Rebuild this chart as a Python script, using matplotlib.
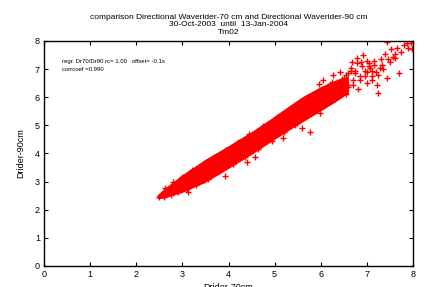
import matplotlib.pyplot as plt
import numpy as np

plt.rcParams['font.family'] = ['Liberation Sans', 'DejaVu Sans']

# dense core of the cloud: envelope
core_x = [2.45, 2.6, 3.0, 3.5, 4.0, 4.5, 4.9, 5.3, 5.6, 6.0, 6.3, 6.6]
core_lo = [2.4, 2.41, 2.62, 2.98, 3.47, 3.97, 4.4, 4.82, 5.12, 5.52, 5.82, 6.15]
core_hi = [2.52, 2.75, 3.25, 3.8, 4.28, 4.78, 5.22, 5.68, 6.02, 6.38, 6.6, 6.75]

# scattered points (rough edges, sparse upper part, outliers)
pts_x = [2.5, 2.6, 2.75, 2.9, 3.1, 3.3, 3.55, 3.8, 4.1, 4.35, 4.65, 4.95, 5.2, 5.45,
         2.62, 2.8, 3.0, 3.2, 3.45, 3.7, 3.95, 4.2, 4.45, 4.75, 5.05, 5.35,
         3.12, 3.47, 3.92, 4.4, 4.57, 5.18, 5.6, 5.77, 5.98, 5.73, 5.62,
         5.96, 6.05, 6.27, 6.42, 6.68, 6.79, 6.92, 6.3, 6.4, 6.5, 6.6, 6.7, 6.85, 7.0,
         6.35, 6.5, 6.6, 6.75, 6.9, 7.05, 7.15, 6.55, 6.8, 7.0, 7.1, 7.2,
         7.07, 7.28, 7.5, 7.57, 7.44, 7.22, 7.24, 7.7, 7.3, 7.4,
         7.44, 7.65, 7.9, 7.98, 7.87, 7.75, 7.6, 7.52, 7.8, 7.95,
         6.15, 6.25, 6.45, 6.55, 6.65, 6.75, 6.95, 7.05, 7.15, 6.2, 6.4, 6.6, 6.7, 6.85,
         6.95, 7.1, 7.25, 7.35, 6.88, 7.0, 6.65, 6.78, 7.12, 7.33, 7.45, 7.6]
pts_y = [2.47, 2.44, 2.52, 2.62, 2.72, 2.88, 3.1, 3.38, 3.62, 3.86, 4.15, 4.45, 4.75, 5.0,
         2.76, 2.98, 3.18, 3.4, 3.62, 3.86, 4.12, 4.4, 4.68, 4.98, 5.3, 5.6,
         2.63, 3.06, 3.2, 3.7, 3.88, 4.55, 4.91, 4.76, 5.44, 6.01, 5.83,
         6.47, 6.62, 6.8, 6.9, 7.25, 7.4, 7.5, 6.05, 6.2, 6.3, 6.45, 6.6, 6.75, 6.9,
         6.55, 6.7, 6.85, 6.95, 7.1, 7.2, 7.3, 6.1, 6.3, 6.5, 6.75, 6.9,
         7.04, 7.04, 7.25, 7.43, 6.69, 6.44, 6.15, 6.86, 7.35, 7.55,
         7.97, 7.76, 7.76, 7.7, 7.93, 7.6, 7.55, 7.7, 7.85, 7.92,
         6.4, 6.55, 6.65, 6.8, 6.95, 6.85, 6.95, 7.1, 7.15, 6.0, 6.1, 6.35, 6.45, 6.6,
         6.75, 6.6, 6.8, 7.0, 7.25, 7.3, 7.05, 7.2, 6.95, 7.15, 7.35, 7.4]

fig = plt.figure(figsize=(4.24, 2.87), dpi=100)
ax = fig.add_axes([0.1038, 0.0732, 0.8703, 0.784])

ax.fill_between(core_x, core_lo, core_hi, color='red', linewidth=0)
ax.plot(pts_x, pts_y, '+', color='red', markersize=4.5, markeredgewidth=1.0)

ax.set_xlim(0, 8)
ax.set_ylim(0, 8)
ax.set_xticks(np.arange(0, 9, 1))
ax.set_yticks(np.arange(0, 9, 1))
ax.tick_params(direction='in', length=3, width=0.8, labelsize=6.5, top=True, right=True, pad=3)
for s in ax.spines.values():
    s.set_linewidth(1.0)

ax.set_xlabel('Drider-70cm', fontsize=6.5, labelpad=3)
ax.set_ylabel('Drider-90cm', fontsize=6.5, labelpad=7)

ax.set_title('comparison Directional Waverider-70 cm and Directional Waverider-90 cm\n'
             '30-Oct-2003  until  13-Jan-2004\nTm02', fontsize=6.0, linespacing=1.15, pad=5)

ax.text(0.39, 7.26, 'regr. Dr70/Dr90 rc= 1.00   offset= -0.1s', fontsize=4.3, va='center')
ax.text(0.39, 6.97, 'corrcoef =0.990', fontsize=4.3, va='center')

fig.savefig('out.png', dpi=100)
